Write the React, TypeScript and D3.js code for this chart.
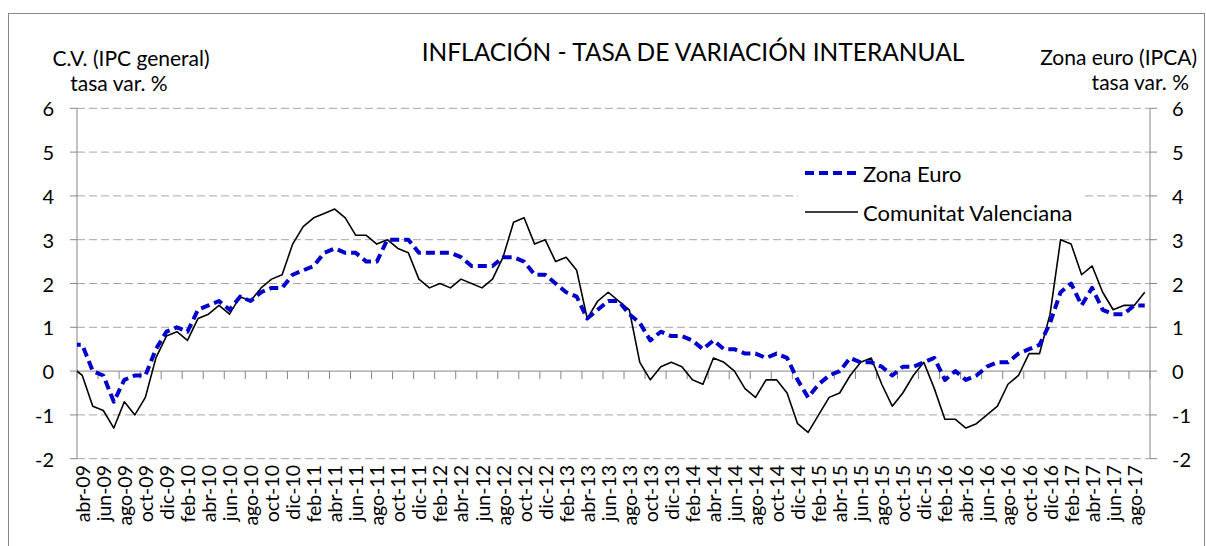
import React, { useRef, useEffect } from 'react';
import * as d3 from 'd3';

// Month names (Spanish) used to build the category labels
const MONTH_NAMES = ['ene', 'feb', 'mar', 'abr', 'may', 'jun', 'jul', 'ago', 'sep', 'oct', 'nov', 'dic'];
const START_YEAR = 2009;
const START_MONTH = 2; // mar-09 (only partly visible, clipped at the axis)

// Zona Euro (IPCA), tasa var. %, mar-09 .. sep-17
const zonaEuro = [
  0.6,
  0.6, 0.0, -0.1, -0.7, -0.2, -0.1, -0.1, 0.5, 0.9, 1.0, 0.9, 1.4,
  1.5, 1.6, 1.4, 1.7, 1.6, 1.8, 1.9, 1.9, 2.2, 2.3, 2.4, 2.7,
  2.8, 2.7, 2.7, 2.5, 2.5, 3.0, 3.0, 3.0, 2.7, 2.7, 2.7, 2.7,
  2.6, 2.4, 2.4, 2.4, 2.6, 2.6, 2.5, 2.2, 2.2, 2.0, 1.8, 1.7,
  1.2, 1.4, 1.6, 1.6, 1.3, 1.1, 0.7, 0.9, 0.8, 0.8, 0.7, 0.5,
  0.7, 0.5, 0.5, 0.4, 0.4, 0.3, 0.4, 0.3, -0.2, -0.6, -0.3, -0.1,
  0.0, 0.3, 0.2, 0.2, 0.1, -0.1, 0.1, 0.1, 0.2, 0.3, -0.2, 0.0,
  -0.2, -0.1, 0.1, 0.2, 0.2, 0.4, 0.5, 0.6, 1.1, 1.8, 2.0, 1.5,
  1.9, 1.4, 1.3, 1.3, 1.5, 1.5,
];

// Comunitat Valenciana (IPC general), tasa var. %, mar-09 .. sep-17
const comunitatValenciana = [
  0.1,
  -0.1, -0.8, -0.9, -1.3, -0.7, -1.0, -0.6, 0.3, 0.8, 0.9, 0.7, 1.2,
  1.3, 1.5, 1.3, 1.7, 1.6, 1.9, 2.1, 2.2, 2.9, 3.3, 3.5, 3.6,
  3.7, 3.5, 3.1, 3.1, 2.9, 3.0, 2.8, 2.7, 2.1, 1.9, 2.0, 1.9,
  2.1, 2.0, 1.9, 2.1, 2.6, 3.4, 3.5, 2.9, 3.0, 2.5, 2.6, 2.3,
  1.2, 1.6, 1.8, 1.6, 1.4, 0.2, -0.2, 0.1, 0.2, 0.1, -0.2, -0.3,
  0.3, 0.2, 0.0, -0.4, -0.6, -0.2, -0.2, -0.5, -1.2, -1.4, -1.0, -0.6,
  -0.5, -0.1, 0.2, 0.3, -0.3, -0.8, -0.5, -0.1, 0.2, -0.4, -1.1, -1.1,
  -1.3, -1.2, -1.0, -0.8, -0.3, -0.1, 0.4, 0.4, 1.3, 3.0, 2.9, 2.2,
  2.4, 1.8, 1.4, 1.5, 1.5, 1.8,
];

const categories = zonaEuro.map((_, i) => {
  const m = START_MONTH + i;
  return `${MONTH_NAMES[m % 12]}-${String(START_YEAR + Math.floor(m / 12)).slice(2)}`;
});

const yTicks = [-2, -1, 0, 1, 2, 3, 4, 5, 6];

const FONT = "Lato, 'Open Sans', sans-serif";

export default function App() {
  const svgRef = useRef<SVGSVGElement>(null);

  const width = 1206;
  const height = 546;
  const plot = { left: 77, right: 1150, top: 108.3, bottom: 458.7 };

  useEffect(() => {
    if (!svgRef.current) return;
    const svg = d3.select(svgRef.current);
    svg.selectAll('*').remove();

    // first visible category is abr-09 (index 1 of the data)
    const nCats = categories.length - 1;
    const x = d3.scaleLinear().domain([0, nCats]).range([plot.left, plot.right]);
    const xPos = (i: number) => x(i - 0.5);
    const y = d3.scaleLinear().domain([-2, 6]).range([plot.bottom, plot.top]);

    // outer frame (bottom edge falls outside the picture)
    svg.append('rect')
      .attr('x', 8.5).attr('y', 13.5)
      .attr('width', 1196).attr('height', 545)
      .attr('fill', 'white')
      .attr('stroke', '#888')
      .attr('stroke-width', 1);

    // grid lines
    svg.append('g')
      .selectAll('line')
      .data(yTicks.filter(d => d !== 0))
      .join('line')
      .attr('x1', plot.left).attr('x2', plot.right)
      .attr('y1', d => y(d)).attr('y2', d => y(d))
      .attr('stroke', '#a6a6a6')
      .attr('stroke-width', 1)
      .attr('stroke-dasharray', '8,4');

    // zero line (category axis)
    svg.append('line')
      .attr('x1', plot.left).attr('x2', plot.right)
      .attr('y1', y(0)).attr('y2', y(0))
      .attr('stroke', '#868686').attr('stroke-width', 1);

    // category ticks every 2 months
    svg.append('g')
      .selectAll('line')
      .data(d3.range(0, nCats + 1, 2))
      .join('line')
      .attr('x1', d => x(d)).attr('x2', d => x(d))
      .attr('y1', y(0)).attr('y2', y(0) + 8)
      .attr('stroke', '#868686');

    // value axes
    const leftAxis = svg.append('g');
    leftAxis.append('line')
      .attr('x1', plot.left).attr('x2', plot.left)
      .attr('y1', plot.top).attr('y2', plot.bottom)
      .attr('stroke', '#868686');
    leftAxis.selectAll('line.tick')
      .data(yTicks)
      .join('line')
      .attr('class', 'tick')
      .attr('x1', plot.left - 7).attr('x2', plot.left)
      .attr('y1', d => y(d)).attr('y2', d => y(d))
      .attr('stroke', '#868686');
    leftAxis.selectAll('text')
      .data(yTicks)
      .join('text')
      .attr('x', 54)
      .attr('y', d => y(d))
      .attr('text-anchor', 'end')
      .attr('dominant-baseline', 'central')
      .attr('font-family', FONT)
      .attr('font-size', 20)
      .attr('fill', '#000')
      .text(d => d);

    const rightAxis = svg.append('g');
    rightAxis.append('line')
      .attr('x1', plot.right).attr('x2', plot.right)
      .attr('y1', plot.top).attr('y2', plot.bottom)
      .attr('stroke', '#868686');
    rightAxis.selectAll('line.tick')
      .data(yTicks)
      .join('line')
      .attr('class', 'tick')
      .attr('x1', plot.right).attr('x2', plot.right + 7)
      .attr('y1', d => y(d)).attr('y2', d => y(d))
      .attr('stroke', '#868686');
    rightAxis.selectAll('text')
      .data(yTicks)
      .join('text')
      .attr('x', 1172)
      .attr('y', d => y(d))
      .attr('text-anchor', 'start')
      .attr('dominant-baseline', 'central')
      .attr('font-family', FONT)
      .attr('font-size', 20)
      .attr('fill', '#000')
      .text(d => d);

    // category labels (every other month, from abr-09)
    svg.append('g')
      .selectAll('text')
      .data(d3.range(1, categories.length, 2))
      .join('text')
      .attr('transform', d => `translate(${xPos(d)}, 465) rotate(-90)`)
      .attr('text-anchor', 'end')
      .attr('dominant-baseline', 'central')
      .attr('font-family', FONT)
      .attr('font-size', 19.5)
      .attr('fill', '#000')
      .text(d => categories[d]);

    // series
    svg.append('defs').append('clipPath').attr('id', 'plot-clip')
      .append('rect')
      .attr('x', plot.left).attr('y', plot.top - 5)
      .attr('width', plot.right - plot.left)
      .attr('height', plot.bottom - plot.top + 10);

    const line = d3.line<number>()
      .x((_, i) => xPos(i))
      .y(d => y(d));

    const series = svg.append('g').attr('clip-path', 'url(#plot-clip)');
    series.append('path')
      .datum(comunitatValenciana)
      .attr('d', line)
      .attr('fill', 'none')
      .attr('stroke', '#000')
      .attr('stroke-width', 1.6)
      .attr('stroke-linejoin', 'round');
    series.append('path')
      .datum(zonaEuro)
      .attr('d', line)
      .attr('fill', 'none')
      .attr('stroke', '#0000cc')
      .attr('stroke-width', 4)
      .attr('stroke-dasharray', '9,5')
      .attr('stroke-linejoin', 'round');

    // legend
    const legend = svg.append('g');
    legend.append('rect')
      .attr('x', 798).attr('y', 158)
      .attr('width', 284).attr('height', 74)
      .attr('fill', 'white');
    const items = [
      { name: 'Zona Euro', color: '#0000cc', width: 4, dash: '9,5', y: 173 },
      { name: 'Comunitat Valenciana', color: '#000', width: 1.6, dash: null, y: 212 },
    ];
    items.forEach(it => {
      legend.append('line')
        .attr('x1', 805).attr('x2', 858)
        .attr('y1', it.y).attr('y2', it.y)
        .attr('stroke', it.color)
        .attr('stroke-width', it.width)
        .attr('stroke-dasharray', it.dash);
      legend.append('text')
        .attr('x', 863).attr('y', it.y)
        .attr('dominant-baseline', 'central')
        .attr('font-family', FONT)
        .attr('font-size', 22)
        .attr('fill', '#000')
        .text(it.name);
    });

    // titles
    svg.append('text')
      .attr('x', 693).attr('y', 61)
      .attr('text-anchor', 'middle')
      .attr('font-family', FONT)
      .attr('font-size', 24.5)
      .attr('fill', '#000')
      .text('INFLACIÓN - TASA DE VARIACIÓN INTERANUAL');

    svg.append('text')
      .attr('x', 131).attr('y', 66)
      .attr('text-anchor', 'middle')
      .attr('font-family', FONT)
      .attr('font-size', 21)
      .text('C.V. (IPC general)');
    svg.append('text')
      .attr('x', 119).attr('y', 91)
      .attr('text-anchor', 'middle')
      .attr('font-family', FONT)
      .attr('font-size', 21)
      .text('tasa var. %');

    svg.append('text')
      .attr('x', 1197).attr('y', 65)
      .attr('text-anchor', 'end')
      .attr('font-family', FONT)
      .attr('font-size', 21)
      .text('Zona euro (IPCA)');
    svg.append('text')
      .attr('x', 1189).attr('y', 90)
      .attr('text-anchor', 'end')
      .attr('font-family', FONT)
      .attr('font-size', 21)
      .text('tasa var. %');
  }, []);

  return (
    <svg
      ref={svgRef}
      width={width}
      height={height}
      style={{ position: 'absolute', left: 0, top: 0, display: 'block' }}
    />
  );
}
